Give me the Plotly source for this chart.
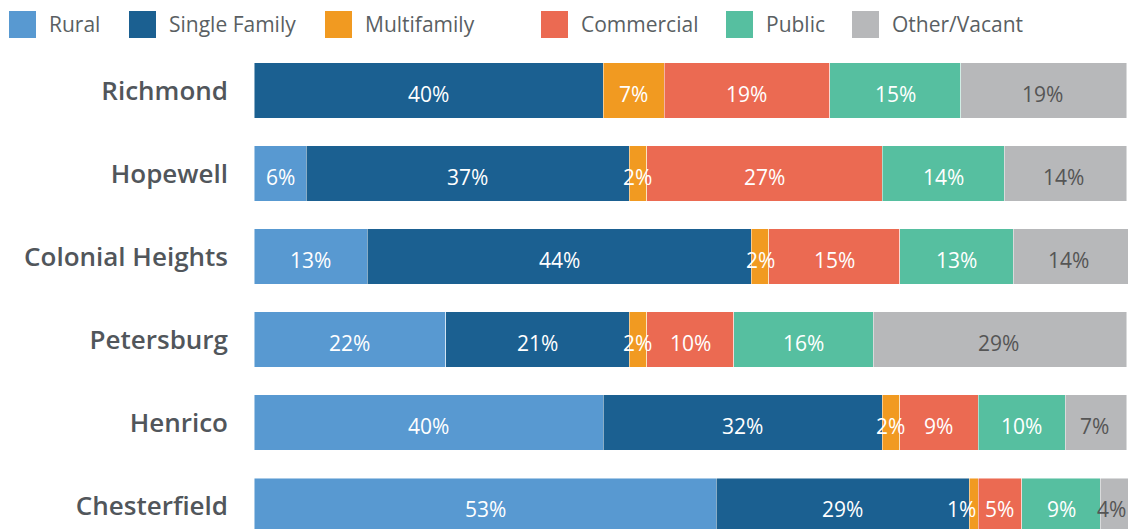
import plotly.graph_objects as go

# Land-use shares by locality (percent)
localities = ["Richmond", "Hopewell", "Colonial Heights", "Petersburg", "Henrico", "Chesterfield"]
rural = [0, 6, 13, 22, 40, 53]
single_family = [40, 37, 44, 21, 32, 29]
multifamily = [7, 2, 2, 2, 2, 1]
commercial = [19, 27, 15, 10, 9, 5]
public = [15, 14, 13, 16, 10, 9]
other_vacant = [19, 14, 14, 29, 7, 4]

series_names = ["Rural", "Single Family", "Multifamily", "Commercial", "Public", "Other/Vacant"]
series_values = [rural, single_family, multifamily, commercial, public, other_vacant]
series_colors = ["#5899D1", "#1B6091", "#F19A21", "#EB6A52", "#56BFA0", "#B7B8BA"]
label_colors = ["white", "white", "white", "white", "white", "#555555"]

W, H = 1128, 529
ML, MR, MT, MB = 254, 0, 50, 0
FONT = "Open Sans"
X_MAX = (W - ML) / 8.725

fig = go.Figure()
for name, vals, col in zip(series_names, series_values, series_colors):
    fig.add_trace(go.Bar(
        y=localities,
        x=vals,
        name=name,
        orientation="h",
        marker=dict(color=col, line=dict(color="rgba(255,255,255,0.6)", width=0.8)),
        showlegend=False,
    ))

annotations = []

# Percentage labels above all segments, centred on the visible part of each segment
starts = [0] * len(localities)
for name, vals, tcol in zip(series_names, series_values, label_colors):
    for i, v in enumerate(vals):
        s = starts[i]
        e = s + v
        starts[i] = e
        if v <= 0:
            continue
        # a 1% sliver gets its label nudged left so it clears the next label
        nudge = -12 if v == 1 else 0
        annotations.append(dict(
            x=(s + min(e, X_MAX - 0.5)) / 2, y=localities[i],
            xref="x", yref="y", text=f"{v}%", showarrow=False,
            xanchor="center", yanchor="middle", xshift=nudge, yshift=-3,
            font=dict(family=FONT, size=21, color=tcol),
        ))

# Legend drawn as large swatches with labels along the top
plot_w = W - ML - MR
plot_h = H - MT - MB


def px_x(p):
    return (p - ML) / plot_w


def px_y(p):
    return 1 - (p - MT) / plot_h


legend_x = [9, 129, 325, 541, 726, 852]
sq = 27
shapes = []
for lx, name, col in zip(legend_x, series_names, series_colors):
    shapes.append(dict(
        type="rect", xref="paper", yref="paper",
        x0=px_x(lx), x1=px_x(lx + sq), y0=px_y(11 + sq), y1=px_y(11),
        fillcolor=col, line=dict(width=0),
    ))
    annotations.append(dict(
        x=px_x(lx + sq + 11), y=px_y(24), xref="paper", yref="paper",
        text=name, showarrow=False, xanchor="left", yanchor="middle",
        font=dict(family=FONT, size=21, color="#5A5F63"),
    ))

fig.update_layout(
    width=W, height=H,
    margin=dict(l=ML, r=MR, t=MT, b=MB, pad=0),
    barmode="stack",
    bargap=0.337,
    plot_bgcolor="white",
    paper_bgcolor="white",
    shapes=shapes,
    annotations=annotations,
    xaxis=dict(range=[0, X_MAX], showgrid=False, zeroline=False,
               showticklabels=False, ticks="", fixedrange=True),
    yaxis=dict(categoryorder="array", categoryarray=localities,
               range=[5.283, -0.488], showgrid=False, zeroline=False, ticks="",
               ticklabelstandoff=25,
               tickfont=dict(family=FONT, size=26, color="#51565B", weight=600)),
)

fig.write_html("out.html")
